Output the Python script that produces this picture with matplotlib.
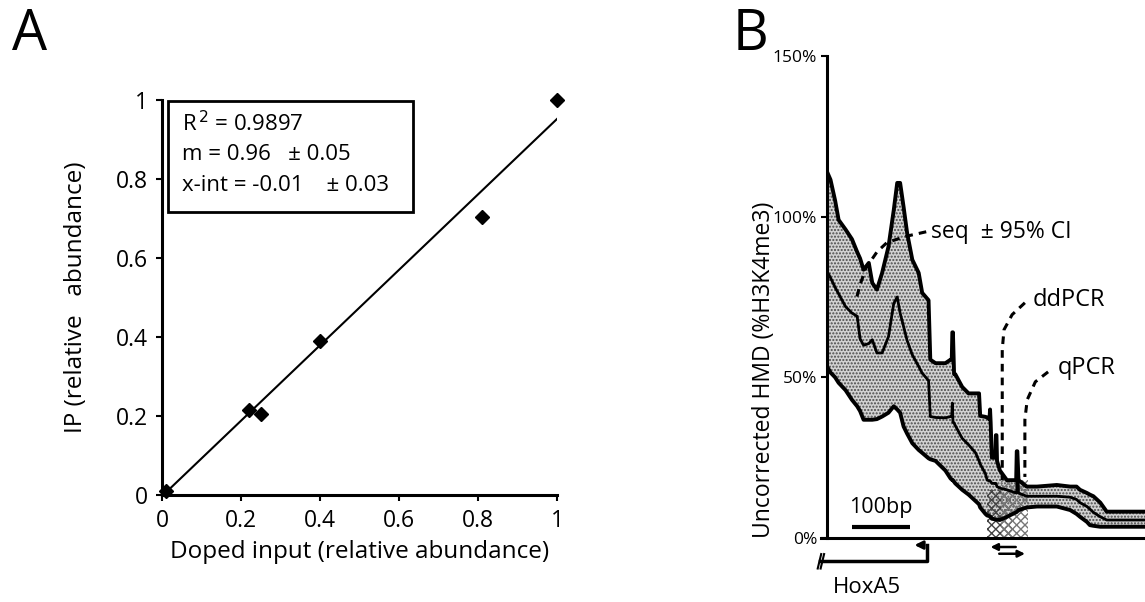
import numpy as np
import matplotlib
matplotlib.use("Agg")
import matplotlib.pyplot as plt
from matplotlib.patches import Rectangle

plt.rcParams["font.family"] = ["Open Sans", "DejaVu Sans"]

# ---- panel A data: doped input vs IP ----
doped = [0.01, 0.22, 0.25, 0.40, 0.81, 1.00]
ip = [0.01, 0.215, 0.205, 0.39, 0.705, 1.00]
fit_slope = 0.955
fit_icpt = -0.003
a_ticks = [0, 0.2, 0.4, 0.6, 0.8, 1]
a_ticklabels = ["0", "0.2", "0.4", "0.6", "0.8", "1"]
stats_lines = ["R$^{\\,2}$ = 0.9897", "m = 0.96   \u00b1 0.05", "x-int = -0.01    \u00b1 0.03"]

# ---- panel B data: HMD along HoxA5 (bp from axis origin) ----
bp = [0, 6, 14, 20, 32, 43, 52, 57, 63, 72, 78, 86, 95, 106, 115, 121, 126, 132,
      138, 147, 158, 164, 175, 178, 187, 204, 213, 215, 216, 217, 219, 221, 233,
      244, 256, 262, 264, 273, 276, 280, 281, 282, 284, 290, 291, 292, 293, 298,
      310, 326, 327, 328, 330, 344, 362, 396, 419, 430, 436, 448, 453, 459, 471,
      482, 548]
seq_upper = [114, 111.5, 105, 99, 96, 93, 89, 87, 83.5, 85.6, 79.4, 77.3, 82.5,
             90.7, 102, 110.5, 110.5, 103, 95, 86.6, 82.5, 76.3, 74, 55.5, 54.4,
             54.4, 55.5, 55.5, 64, 64, 51, 51, 47, 45, 45, 45, 38, 37.7, 37.5,
             37, 40, 36, 25, 25, 32, 32, 24, 21, 18, 18, 27, 27, 18, 16, 16, 16.5,
             16, 16, 15, 14, 13.5, 13, 11, 8.2, 8.2]
seq_mean = [83, 81, 78, 76, 72, 70, 69, 62, 60, 60.5, 61.7, 57.6, 57.6, 62.7, 73,
            75, 70, 65.8, 61.5, 57, 53.4, 51.3, 49, 37.8, 37.5, 37.4, 37.8, 37.8,
            42, 36, 35.8, 35, 31, 29, 26.5, 24, 23, 20, 18, 17.8, 17.7, 17.6, 17,
            17, 17, 16.5, 16, 15.5, 15, 14, 14, 26.5, 14, 13, 13, 13, 12.7, 12,
            11, 9.8, 9, 8, 6.6, 5.6, 5.6]
seq_lower = [53.4, 51.5, 50, 48.3, 46, 43, 41, 39.5, 36.8, 36.8, 36.8, 37, 37.8,
             39, 41, 40, 39, 34.7, 32.5, 29.5, 27.4, 26.5, 24.8, 24.5, 24, 21,
             18.5, 18.2, 18, 18, 17.5, 17, 15, 13.5, 11.5, 10.5, 9.5, 7.5, 7, 6.8,
             6.7, 6.5, 6, 5.8, 5.8, 5.7, 5.7, 5.6, 6.6, 8, 8.1, 8.3, 8.7, 9.5, 9.8,
             9.8, 8.7, 7.5, 6.6, 5, 4, 3.8, 3.5, 3.5, 3.5]
b_ticks = [0, 50, 100, 150]
b_ticklabels = ["0%", "50%", "100%", "150%"]
ddpcr_span = (275, 318, 15)
qpcr_span = (300, 347, 18)

fig = plt.figure(figsize=(11.45, 6.02), dpi=100)

# ================= panel A =================
axA = fig.add_axes([162 / 1145, 1 - 495 / 602, 395 / 1145, 395 / 602])
xs = np.array([0.0, 1.0])
axA.plot(xs, fit_slope * xs + fit_icpt, color="black", lw=1.5)
axA.plot(doped, ip, "D", color="black", ms=7, clip_on=False, zorder=5)
axA.set_xlim(0, 1)
axA.set_ylim(0, 1)
axA.set_xticks(a_ticks)
axA.set_xticklabels(a_ticklabels)
axA.set_yticks(a_ticks)
axA.set_yticklabels(a_ticklabels)
for s in ["top", "right"]:
    axA.spines[s].set_visible(False)
for s in ["left", "bottom"]:
    axA.spines[s].set_linewidth(2.2)
axA.tick_params(direction="out", length=4, width=1.5, labelsize=16.5, pad=6)
axA.set_xlabel("Doped input (relative abundance)", fontsize=17.5, labelpad=5)
axA.set_ylabel("IP (relative   abundance)", fontsize=17.5, labelpad=20)

axA.add_patch(Rectangle((0.015, 0.716), 0.62, 0.281, transform=axA.transAxes,
                        fill=False, lw=2, edgecolor="black", clip_on=False))
for i, line in enumerate(stats_lines):
    axA.text(0.05, 0.94 - i * 0.078, line, transform=axA.transAxes,
             fontsize=16, va="center", ha="left")

fig.text(12 / 1145, 1 - 36 / 602, "A", fontsize=40, va="center", ha="left")

# ================= panel B =================
axB = fig.add_axes([827 / 1145, 1 - 538 / 602, 318 / 1145, 482 / 602])
axB.fill_between(bp, seq_lower, seq_upper, facecolor="#d2d2d2", edgecolor="#4a4a4a",
                 hatch=".....", lw=0, zorder=1)
axB.plot(bp, seq_upper, color="black", lw=2.8, zorder=3)
axB.plot(bp, seq_mean, color="black", lw=2.0, zorder=3)
axB.plot(bp, seq_lower, color="black", lw=2.8, zorder=3)

# amplicon boxes
for (x0, x1, h), ec in [(ddpcr_span, "#444444"), (qpcr_span, "#777777")]:
    axB.add_patch(Rectangle((x0, 0), x1 - x0, h, facecolor="none", edgecolor=ec,
                            hatch="xxxx", lw=0, zorder=2))

dash = (0, (2.5, 2))
# seq +/- 95% CI pointer
axB.plot([171, 134, 103, 86, 67, 57, 50], [95.3, 93.8, 91.9, 89, 84, 78.8, 74],
         color="black", lw=2.2, ls=dash, zorder=4)
axB.text(180, 95.3, "seq  \u00b1 95% CI", fontsize=16.5, va="center", ha="left")
# ddPCR pointer
axB.plot([341, 319, 305, 302, 302], [73.2, 69.5, 64.8, 58.6, 18],
         color="black", lw=2.2, ls=dash, zorder=4)
axB.text(354, 74, "ddPCR", fontsize=17, va="center", ha="left")
# qPCR pointer
axB.plot([381, 359, 345, 341, 341], [51.7, 48.6, 43, 36.8, 19],
         color="black", lw=2.2, ls=dash, zorder=4)
axB.text(397, 53, "qPCR", fontsize=17, va="center", ha="left")

# scale bar
axB.plot([43, 143], [3.4, 3.4], color="black", lw=3, solid_capstyle="butt")
axB.text(93, 9.5, "100bp", fontsize=15.5, ha="center", va="center")

axB.set_xlim(0, 548)
axB.set_ylim(0, 150)
axB.set_yticks(b_ticks)
axB.set_yticklabels(b_ticklabels)
axB.set_xticks([])
for s in ["top", "right"]:
    axB.spines[s].set_visible(False)
for s in ["left", "bottom"]:
    axB.spines[s].set_linewidth(2.2)
axB.spines["bottom"].set_bounds(-10, 548)
axB.tick_params(direction="out", length=4, width=1.5, labelsize=12.5, pad=3)

# gene model below the axis
axB.plot([-12, 172, 172], [-7.2, -7.2, -2.2], color="black", lw=2.5, clip_on=False)
axB.annotate("", xy=(146, -2.2), xytext=(172, -2.2), annotation_clip=False,
             arrowprops=dict(arrowstyle="-|>", color="black", lw=2, mutation_scale=12))
axB.plot([-16, -10], [-9.5, -5], color="black", lw=1.5, clip_on=False)
axB.plot([-11, -5], [-9.5, -5], color="black", lw=1.5, clip_on=False)
axB.text(69, -15.3, "HoxA5", fontsize=16, ha="center", va="center")
# primer arrows
axB.annotate("", xy=(277, -2.8), xytext=(330, -2.8), annotation_clip=False,
             arrowprops=dict(arrowstyle="-|>", color="black", lw=1.8, mutation_scale=10))
axB.annotate("", xy=(346, -4.9), xytext=(292, -4.9), annotation_clip=False,
             arrowprops=dict(arrowstyle="-|>", color="black", lw=1.8, mutation_scale=10))

fig.text(764 / 1145, 1 - 370 / 602, "Uncorrected HMD (%H3K4me3)", fontsize=16.5,
         rotation=90, ha="center", va="center")
fig.text(733 / 1145, 1 - 36 / 602, "B", fontsize=40, va="center", ha="left")

fig.savefig("out.png", dpi=100)
